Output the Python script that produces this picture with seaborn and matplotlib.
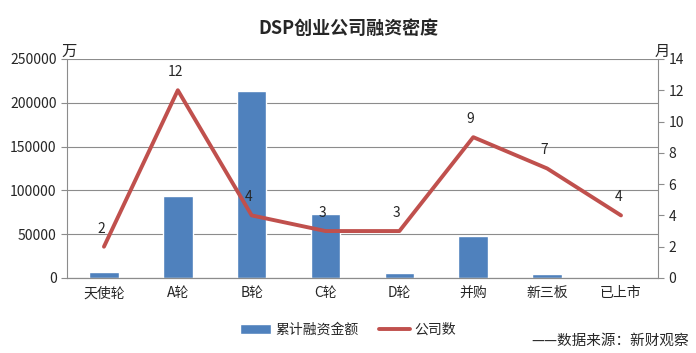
import numpy as np
import pandas as pd
from matplotlib import pyplot as plt
import seaborn as sns

# data
stages = ["天使轮", "A轮", "B轮", "C轮", "D轮", "并购", "新三板", "已上市"]
amounts = [7000, 93500, 213500, 73000, 5500, 48000, 4500, 0]
companies = [2, 12, 4, 3, 3, 9, 7, 4]

sns.set_style("white")
plt.rcParams["font.family"] = ["Noto Sans CJK SC", "DejaVu Sans"]

df = pd.DataFrame({"stage": stages, "amount": amounts, "count": companies})

fig = plt.figure(figsize=(6.96, 3.53), dpi=100)
ax = fig.add_axes([0.0963, 0.2125, 0.849, 0.6205])
ax2 = ax.twinx()

bar_c = "#4F81BD"
line_c = "#C0504D"
grid_c = "#8C8C8C"

sns.barplot(data=df, x="stage", y="amount", color=bar_c, width=0.4,
            saturation=1, ax=ax, label="累计融资金额")
x = np.arange(len(stages))
sns.lineplot(x=x, y=df["count"], color=line_c, linewidth=2.8, sort=False,
             ax=ax2, label="公司数", legend=False)

for xi, c in zip(x, companies):
    ax2.annotate(str(c), (xi, c), xytext=(-2, 8), textcoords="offset points",
                 ha="center", va="bottom", fontsize=10)

ax.set_ylim(0, 250000)
ax.set_yticks(range(0, 250001, 50000))
ax2.set_ylim(0, 14)
ax2.set_yticks(range(0, 15, 2))
ax.set_xlim(-0.5, len(stages) - 0.5)

ax.yaxis.grid(True, color=grid_c, linewidth=0.8)
ax.set_axisbelow(True)
ax.set_xlabel("")
ax.set_ylabel("")
ax2.set_ylabel("")

for a in (ax, ax2):
    a.spines["top"].set_visible(False)
    for s in ("left", "right", "bottom"):
        a.spines[s].set_color(grid_c)
        a.spines[s].set_linewidth(0.8)
    a.tick_params(axis="y", labelsize=10, length=4, color=grid_c, direction="out")

ax.tick_params(axis="x", labelsize=10, length=0, pad=6)
ax.set_xticks(np.arange(-0.5, len(stages), 1), minor=True)
ax.tick_params(axis="x", which="minor", length=4, color=grid_c)
ax2.spines["left"].set_visible(False)
ax.spines["right"].set_visible(False)

fig.text(0.5, 0.92, "DSP创业公司融资密度", ha="center", va="center",
         fontsize=13, fontweight="bold")
fig.text(0.089, 0.855, "万", ha="left", va="center", fontsize=11)
fig.text(0.94, 0.855, "月", ha="left", va="center", fontsize=11)

h1, l1 = ax.get_legend_handles_labels()
h2, l2 = ax2.get_legend_handles_labels()
if ax.get_legend():
    ax.get_legend().remove()
fig.legend(h1 + h2, l1 + l2, loc="center", bbox_to_anchor=(0.5, 0.065),
           ncol=2, frameon=False, fontsize=10, handlelength=2.2,
           handletextpad=0.3, columnspacing=1.5)

fig.text(0.99, 0.035, "——数据来源：新财观察", ha="right", va="center", fontsize=10.5)

plt.savefig("out.png", dpi=100)
